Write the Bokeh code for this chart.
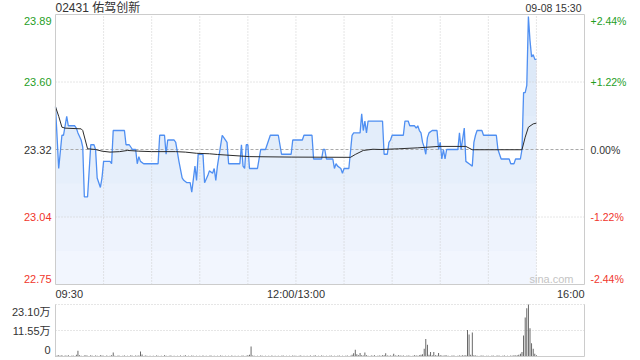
import numpy as np
from bokeh.plotting import figure
from bokeh.models import Range1d, Label
from bokeh.layouts import column
from bokeh.embed import file_html
from bokeh.resources import INLINE

# ---------------- data ----------------
title_text = "02431 佑驾创新"
stamp_text = "09-08 15:30"
prev_close = 23.32
pct_span = 2.44
time_labels = ["09:30", "12:00/13:00", "16:00"]
time_label_min = [0, 150, 330]          # trading minutes from 09:30 (lunch removed)
session_minutes = 330

price_min = [0, 2, 4, 5, 7, 8, 12, 13, 14, 16, 17, 18, 20, 22, 24, 25, 26, 28, 29, 30,
             34, 35, 36, 43, 44, 46, 48, 50, 51, 52, 53, 55, 64, 65, 68, 69, 70, 74, 75, 76,
             77, 79, 80, 82, 84, 85, 87, 88, 89, 92, 93, 95, 96, 98, 99, 100, 101, 104, 105, 107,
             108, 115, 116, 117, 118, 119, 120, 121, 126, 128, 131, 134, 139, 141, 147, 148, 154, 155, 160, 161,
             166, 167, 168, 169, 173, 174, 175, 176, 178, 179, 180, 183, 185, 186, 190, 191, 192, 193, 194, 195,
             204, 205, 207, 208, 209, 210, 217, 218, 220, 221, 224, 225, 226, 227, 228, 229, 230, 231, 232, 233,
             235, 238, 239, 240, 241, 242, 243, 244, 251, 252, 253, 255, 256, 258, 260, 261, 262, 263, 266, 267,
             275, 276, 278, 283, 284, 286, 287, 290, 291, 292, 293, 294, 295, 296, 297, 298, 299, 300]
price_val = [23.50, 23.24, 23.38, 23.38, 23.46, 23.42, 23.42, 23.41, 23.39, 23.36, 23.33, 23.12, 23.12, 23.34, 23.34, 23.32, 23.20, 23.16, 23.20, 23.27,
             23.27, 23.26, 23.40, 23.40, 23.34, 23.34, 23.32, 23.32, 23.26, 23.29, 23.27, 23.26, 23.26, 23.38, 23.38, 23.30, 23.36, 23.36, 23.35, 23.31,
             23.27, 23.20, 23.19, 23.18, 23.18, 23.14, 23.25, 23.19, 23.30, 23.30, 23.18, 23.21, 23.23, 23.22, 23.24, 23.19, 23.25, 23.38, 23.37, 23.35,
             23.26, 23.26, 23.34, 23.25, 23.24, 23.34, 23.34, 23.24, 23.24, 23.32, 23.32, 23.38, 23.38, 23.30, 23.30, 23.36, 23.36, 23.38, 23.38, 23.28,
             23.28, 23.32, 23.32, 23.28, 23.28, 23.24, 23.26, 23.25, 23.24, 23.22, 23.24, 23.24, 23.38, 23.39, 23.39, 23.47, 23.40, 23.44, 23.39, 23.44,
             23.44, 23.30, 23.30, 23.35, 23.36, 23.38, 23.38, 23.44, 23.44, 23.42, 23.42, 23.41, 23.42, 23.40, 23.39, 23.35, 23.33, 23.30, 23.37, 23.39,
             23.40, 23.40, 23.32, 23.35, 23.28, 23.32, 23.28, 23.32, 23.32, 23.39, 23.32, 23.41, 23.27, 23.26, 23.25, 23.35, 23.38, 23.40, 23.40, 23.38,
             23.38, 23.32, 23.28, 23.28, 23.26, 23.26, 23.28, 23.28, 23.32, 23.56, 23.56, 23.59, 23.88, 23.78, 23.71, 23.72, 23.70, 23.70]

avg_min = [0, 2, 4, 6, 16, 17, 20, 25, 29, 34, 40, 45, 52, 60, 75, 81, 88, 96, 101, 121,
           147, 184, 187, 192, 198, 203, 214, 226, 239, 256, 260, 291, 293, 295, 298, 300]
avg_val = [23.50, 23.46, 23.414, 23.41, 23.407, 23.40, 23.323, 23.32, 23.313, 23.309, 23.311, 23.316, 23.313, 23.311, 23.311, 23.309, 23.304, 23.302, 23.299, 23.29,
           23.288, 23.287, 23.299, 23.316, 23.321, 23.32, 23.323, 23.327, 23.333, 23.333, 23.319, 23.319, 23.372, 23.414, 23.428, 23.431]

# volume per minute, in thousands of shares (minute 0 .. 300)
vol_k = [9, 4, 6, 3, 5, 2, 4, 3, 6, 2, 3, 4, 2, 8, 26, 5, 3, 2, 4, 6, 3, 2, 5, 3, 2, 4, 3, 2, 6, 4,
         3, 2, 4, 2, 3, 5, 18, 3, 2, 4, 3, 2, 3, 4, 2, 3, 2, 5, 3, 2, 4, 3, 4, 22, 9, 2, 4, 3, 2, 3,
         2, 3, 2, 4, 3, 2, 3, 2, 5, 3, 2, 3, 4, 2, 3, 2, 3, 2, 4, 2, 3, 5, 2, 3, 2, 4, 3, 2, 3, 2,
         3, 2, 4, 2, 3, 2, 3, 4, 2, 3, 2, 3, 2, 4, 3, 2, 3, 2, 3, 2, 4, 2, 3, 2, 3, 2, 3, 4, 2, 3,
         5, 8, 44, 4, 3, 2, 3, 2, 4, 3, 2, 3, 2, 3, 2, 4, 2, 3, 2, 3, 2, 3, 4, 2, 3, 2, 3, 2, 4, 3,
         3, 2, 3, 4, 2, 3, 2, 3, 2, 4, 2, 3, 5, 2, 3, 2, 4, 3, 2, 3, 2, 3, 4, 2, 3, 2, 3, 4, 2, 3,
         2, 3, 4, 2, 3, 8, 14, 30, 10, 5, 16, 6, 4, 18, 5, 3, 2, 4, 3, 5, 2, 3, 4, 3, 6, 5, 14, 4, 3, 4,
         3, 12, 4, 3, 5, 4, 3, 4, 2, 3, 4, 3, 2, 3, 5, 4, 3, 6, 8, 10, 34, 78, 52, 8, 20, 6, 20, 5, 4, 16,
         5, 4, 3, 6, 4, 3, 2, 3, 4, 3, 2, 3, 4, 3, 5, 4, 6, 118, 98, 8, 107, 5, 4, 3, 2, 3, 4, 3, 2, 3,
         3, 2, 3, 4, 2, 3, 4, 3, 2, 3, 4, 2, 3, 2, 4, 3, 5, 4, 6, 8, 12, 20, 93, 173, 214, 231, 126, 59, 34, 12,
         6]

# ---------------- styling / layout ----------------
GREEN = "#1f9e1f"
RED = "#f0362c"
DARK = "#333333"
GRIDC = "#cccccc"
FONT = "Liberation Sans, Noto Sans CJK SC"
W = 640
H1, H2 = 300, 60
L_PX, R_PX = 55, 584          # chart box left / right edge on the canvas
T1, B1 = 14, 284              # price box top / bottom
T2, B2 = 4, 56                # volume box top / bottom (inside the 60px volume figure)

y_lo = prev_close * (1 - pct_span / 100)
y_hi = prev_close * (1 + pct_span / 100)
y_q1 = prev_close * (1 - pct_span / 200)
y_q3 = prev_close * (1 + pct_span / 200)
px = np.array(price_min, dtype=float)
pv = np.array(price_val, dtype=float)
vol = np.array(vol_k, dtype=float) * 1000
vol_x = np.arange(len(vol_k))
vmax = vol.max()

# ranges chosen so that the chart box sits at the pixel positions above while
# the whole figure is the plotting frame (so the margin texts are not clipped)
kx = session_minutes / (R_PX - L_PX)
xr = Range1d(-L_PX * kx, (W - L_PX) * kx)
ky = (y_hi - y_lo) / (B1 - T1)
yr1 = Range1d(y_lo - (H1 - B1) * ky, y_hi + T1 * ky)
kv = vmax / (B2 - T2)
yr2 = Range1d(-(H2 - B2) * kv, vmax + T2 * kv)

common = dict(output_backend="svg", toolbar_location=None,
              x_axis_location=None, y_axis_location=None,
              min_border=0, outline_line_color=None,
              background_fill_color="white", border_fill_color="white")

p = figure(width=W, height=H1, x_range=xr, y_range=yr1, **common)
p.grid.visible = False

# gradient-like fill under the price line
p.varea(x=px, y1=np.full_like(pv, y_lo), y2=pv, fill_color="#f2f6fe", fill_alpha=1.0)
n_layers = 8
for k in range(1, n_layers):
    lvl = y_lo + (y_hi - y_lo) * k / n_layers
    p.varea(x=px, y1=np.full_like(pv, lvl), y2=np.maximum(pv, lvl),
            fill_color="#c3d7f7", fill_alpha=0.08)

# grid lines (dotted) and previous-close line (dashed)
vt = list(range(30, session_minutes, 30))
p.segment(x0=vt, x1=vt, y0=[y_lo] * len(vt), y1=[y_hi] * len(vt),
          line_color=GRIDC, line_dash="1 2", line_width=1)
p.segment(x0=[0, 0], x1=[session_minutes] * 2, y0=[y_q1, y_q3], y1=[y_q1, y_q3],
          line_color=GRIDC, line_dash="1 2", line_width=1)
p.segment(x0=[0], x1=[session_minutes], y0=[prev_close], y1=[prev_close],
          line_color="#aaaaaa", line_dash="3 2", line_width=1)

p.line(px, pv, line_color="#4f8ff2", line_width=1.3)
p.line(avg_min, avg_val, line_color="#2b2b2b", line_width=1)

# chart box
p.quad(left=[0], right=[session_minutes], bottom=[y_lo], top=[y_hi],
       fill_color=None, line_color=GRIDC, line_width=1)


def lab(fig, x, y, text, color, align, xo=0, yo=0, size="11px"):
    fig.add_layout(Label(x=x, y=y, x_units="data", y_units="data", text=text,
                         x_offset=xo, y_offset=yo, text_align=align, text_baseline="middle",
                         text_color=color, text_font_size=size, text_font=FONT))


levels = [(y_hi, GREEN, -6, f"+{pct_span:.2f}%"),
          (y_q3, GREEN, 0, f"+{pct_span/2:.2f}%"),
          (prev_close, DARK, 0, "0.00%"),
          (y_q1, RED, 0, f"-{pct_span/2:.2f}%"),
          (y_lo, RED, 6, f"-{pct_span:.2f}%")]
for yv, col, yo, pct_txt in levels:
    lab(p, 0, yv, f"{yv:.2f}", col, "right", xo=-4, yo=yo)
    lab(p, session_minutes, yv, pct_txt, col, "left", xo=6, yo=yo, size="10.5px")

lab(p, 0, y_hi, title_text, DARK, "left", xo=0, yo=7, size="12px")
lab(p, session_minutes, y_hi, stamp_text, DARK, "right", xo=-3, yo=7, size="10.5px")
lab(p, session_minutes, y_lo, "sina.com", "#c4c4c4", "right", xo=-11, yo=6, size="11px")

for t, m, a in zip(time_labels, time_label_min, ["left", "center", "right"]):
    lab(p, m, y_lo, t, DARK, a, xo=0, yo=-9)

# ---------------- volume panel ----------------
v = figure(width=W, height=H2, x_range=xr, y_range=yr2, **common)
v.grid.visible = False
v.segment(x0=[0, 0], x1=[session_minutes] * 2, y0=[vmax / 2, vmax], y1=[vmax / 2, vmax],
          line_color=GRIDC, line_dash="1 2", line_width=1)
v.vbar(x=vol_x, top=vol, width=0.55, fill_color="#555555", line_color=None)
v.segment(x0=[0, session_minutes, 0], x1=[0, session_minutes, session_minutes],
          y0=[0, 0, 0], y1=[vmax, vmax, 0], line_color=GRIDC, line_width=1)

lab(v, 0, vmax, f"{vmax/1e4:.2f}万", DARK, "right", xo=-5, yo=-7)
lab(v, 0, vmax / 2, f"{vmax/2e4:.2f}万", DARK, "right", xo=-5, yo=0)
lab(v, 0, 0, "0", DARK, "right", xo=-5, yo=7)

layout = column(p, v, spacing=0)
open("out.html", "w").write(file_html(layout, INLINE))
